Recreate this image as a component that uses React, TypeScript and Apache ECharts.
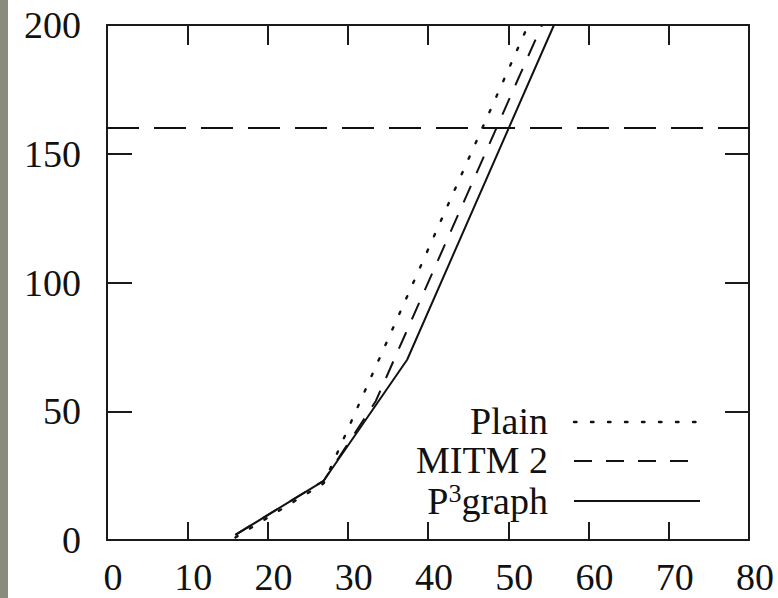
import React, { useEffect, useRef } from "react";
import * as echarts from "echarts";

const xTicks = [0, 10, 20, 30, 40, 50, 60, 70, 80];
const yTicks = [0, 50, 100, 150, 200];
const plainData: [number, number][] = [[16, 1], [27, 22], [52.5, 200]];
const mitmData: [number, number][] = [[16, 2], [27, 23], [33.5, 54], [54.2, 200]];
const p3Data: [number, number][] = [[16, 2], [27, 23], [37.4, 70], [55.7, 200]];
const limitValue = 160;
const legendNames = ["Plain", "MITM 2", "P³graph"];

const FONT = "Liberation Serif";
const FS = 38;

export default function App() {
  const ref = useRef<HTMLDivElement>(null);
  useEffect(() => {
    document.body.style.margin = "0";
    const chart = echarts.init(ref.current!, null, { renderer: "svg" });
    const axisLine = { show: true, onZero: false, lineStyle: { color: "#1a1a1a", width: 2 } };
    const tickStyle = { color: "#1a1a1a", width: 2 };
    const xMin = xTicks[0], xMax = xTicks[xTicks.length - 1];
    const yMin = yTicks[0], yMax = yTicks[yTicks.length - 1];
    const legendX1 = 574, legendX2 = 700, textRight = 548;
    const rows = [422, 461, 501];
    const dashes = [[2.5, 14.5], [18, 14], null];
    chart.setOption({
      animation: false,
      backgroundColor: "#ffffff",
      grid: { left: 107, top: 25, right: 29, bottom: 58, containLabel: false },
      xAxis: [
        {
          type: "value", min: xMin, max: xMax, interval: 10, position: "bottom",
          axisLine, splitLine: { show: false },
          axisTick: { show: true, inside: true, length: 18, lineStyle: tickStyle },
          axisLabel: { color: "#111", fontFamily: FONT, fontSize: FS, margin: 18, padding: [0, 0, 0, 12] },
        },
        {
          type: "value", min: xMin, max: xMax, interval: 10, position: "top",
          axisLine, splitLine: { show: false },
          axisTick: { show: true, inside: true, length: 20, lineStyle: tickStyle },
          axisLabel: { show: false },
        },
      ],
      yAxis: [
        {
          type: "value", min: yMin, max: yMax, interval: 50, position: "left",
          axisLine, splitLine: { show: false },
          axisTick: { show: true, inside: true, length: 25, lineStyle: tickStyle },
          axisLabel: { color: "#111", fontFamily: FONT, fontSize: FS, margin: 26 },
        },
        {
          type: "value", min: yMin, max: yMax, interval: 50, position: "right",
          axisLine, splitLine: { show: false },
          axisTick: { show: true, inside: true, length: 24, lineStyle: tickStyle },
          axisLabel: { show: false },
        },
      ],
      series: [
        {
          type: "line", name: "limit", data: [[xMin, limitValue], [xMax, limitValue]],
          showSymbol: false, symbol: "none",
          lineStyle: { color: "#111", width: 2, type: [32, 15] },
        },
        {
          type: "line", name: legendNames[0], data: plainData, symbol: "none",
          lineStyle: { color: "#111", width: 2.4, type: [2.5, 14.5], cap: "round" },
        },
        {
          type: "line", name: legendNames[1], data: mitmData, symbol: "none",
          lineStyle: { color: "#111", width: 2, type: [18, 14] },
        },
        {
          type: "line", name: legendNames[2], data: p3Data, symbol: "none",
          lineStyle: { color: "#111", width: 2, type: "solid" },
        },
      ],
      graphic: [
        { type: "rect", left: 0, top: 0, shape: { x: 0, y: 0, width: 8, height: 598 }, style: { fill: "#898c7d" } },
        ...rows.map((y, i) => ({
          type: "line",
          shape: { x1: legendX1, y1: y, x2: legendX2, y2: y },
          style: { stroke: "#111", lineWidth: i === 0 ? 2.4 : 2, lineDash: dashes[i] || undefined, lineCap: i === 0 ? "round" : "butt" },
        })),
        ...rows.map((y, i) => ({
          type: "text",
          x: textRight, y: y - 1,
          style: i === 2
            ? {
                text: "{a|P}{s|3}{a|graph}",
                align: "right", verticalAlign: "middle",
                rich: {
                  a: { fontFamily: FONT, fontSize: FS, fill: "#111", lineHeight: 40, verticalAlign: "bottom" },
                  s: { fontFamily: FONT, fontSize: 26, fill: "#111", lineHeight: 40, verticalAlign: "top" },
                },
              }
            : { text: legendNames[i], fontFamily: FONT, fontSize: FS, fill: "#111", align: "right", verticalAlign: "middle" },
        })),
      ],
    });
    return () => chart.dispose();
  }, []);
  return <div ref={ref} style={{ width: 778, height: 598 }} />;
}
